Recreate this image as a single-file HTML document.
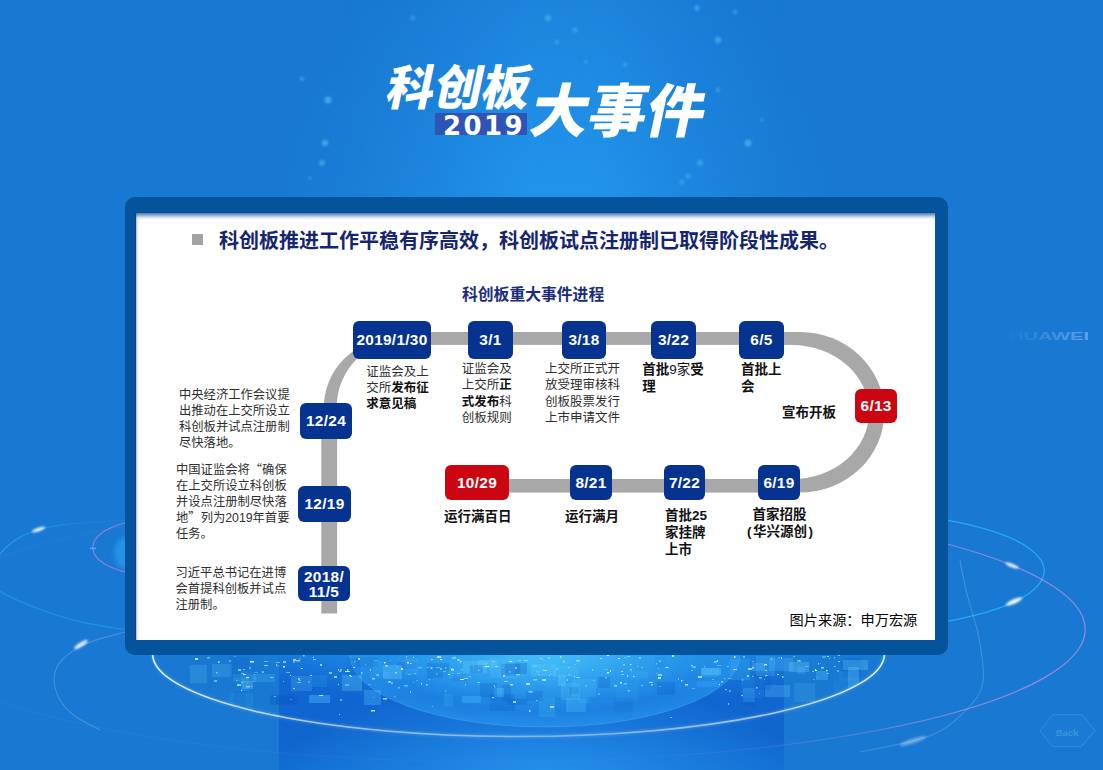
<!DOCTYPE html>
<html lang="zh-CN">
<head>
<meta charset="utf-8">
<title>科创板2019大事件</title>
<style>
*{margin:0;padding:0;box-sizing:border-box}
html,body{width:1103px;height:770px;overflow:hidden}
body{position:relative;background:#1878d2;font-family:"Liberation Sans","Noto Sans CJK SC",sans-serif;color:#222}
.abs{position:absolute}
#bg{position:absolute;left:0;top:0;width:1103px;height:770px;overflow:hidden;
 background:
  radial-gradient(ellipse 290px 300px at 556px 230px, rgba(36,156,240,.5), rgba(36,156,240,0) 100%),
  #1878d2;}
#beam{position:absolute;left:340px;top:0;width:450px;height:420px;
 background:linear-gradient(90deg,rgba(34,150,238,0) 0%,rgba(34,150,238,.22) 22%,rgba(38,158,242,.5) 42%,rgba(38,158,242,.52) 58%,rgba(34,150,238,.22) 78%,rgba(34,150,238,0) 100%);
 -webkit-mask-image:linear-gradient(180deg,rgba(0,0,0,.45) 0%,#000 45%);mask-image:linear-gradient(180deg,rgba(0,0,0,.45) 0%,#000 45%)}
#bgsvg{position:absolute;left:0;top:0}
/* title */
.t1{position:absolute;left:381px;top:59px;font-size:47.75px;line-height:60px;font-weight:900;color:#fff;white-space:nowrap;transform:skewX(-12deg);transform-origin:0 100%;letter-spacing:0px}
.t2{position:absolute;left:524px;top:75px;font-size:58px;line-height:74px;font-weight:900;color:#fff;white-space:nowrap;transform:skewX(-12deg);transform-origin:0 100%;letter-spacing:0px}
.yr{position:absolute;left:435px;top:113px;width:91.5px;height:22px;background:#2f54b5;color:#fff;font-family:"DejaVu Sans","Liberation Sans",sans-serif;font-weight:bold;font-size:26px;line-height:27px;text-align:right;padding-right:1.5px;letter-spacing:2.4px;overflow:hidden}
/* card */
#frame{position:absolute;left:125px;top:197px;width:823px;height:458px;background:#05539a;border-radius:10px}
#card{position:absolute;left:135px;top:213px;width:800px;height:427px;background:#fff;overflow:hidden;
 box-shadow:inset 2px 4.5px 4px -2px rgba(5,70,150,.8), inset 2px 0 1px -1px rgba(0,10,40,.9)}
.h{position:absolute;left:219px;top:226.5px;font-size:20px;line-height:28px;font-weight:bold;color:#15266f;white-space:nowrap}
.bul{position:absolute;left:191.7px;top:233.9px;width:11.3px;height:10.8px;background:#a3a3a3}
.sub{position:absolute;left:462px;top:283.5px;font-size:15.8px;line-height:22px;font-weight:bold;color:#1a2d7c;white-space:nowrap}
.node{position:absolute;background:#06338f;border-radius:6px;color:#fff;font-weight:bold;font-size:15.4px;letter-spacing:.3px;text-align:center;white-space:nowrap}
.node.red{background:#cb0612}
.tx{position:absolute;font-size:12.3px;line-height:16px;color:#2e2e2e;white-space:nowrap}
.tx.c{font-size:12.5px}
.q{font-family:"Noto Sans CJK SC",sans-serif;line-height:0}
.tx b{color:#111}
.lb{position:absolute;font-size:13.5px;line-height:17.2px;font-weight:bold;color:#111;white-space:nowrap}
.src{position:absolute;left:789.6px;top:609.7px;font-size:14.2px;line-height:20px;color:#000;white-space:nowrap}
</style>
</head>
<body>
<div id="bg"><div id="beam"></div></div>
<svg id="bgsvg" width="1103" height="770" viewBox="0 0 1103 770">
<defs>
<linearGradient id="bandg" x1="0" y1="640" x2="0" y2="770" gradientUnits="userSpaceOnUse">
<stop offset="0" stop-color="#187ce0"/><stop offset=".3" stop-color="#1167d3"/><stop offset=".72" stop-color="#1064cd"/><stop offset="1" stop-color="#116cd2"/></linearGradient>
<radialGradient id="cityg" cx="545" cy="650" r="1" gradientUnits="userSpaceOnUse" gradientTransform="translate(545 650) scale(320 58) translate(-545 -650)">
<stop offset="0" stop-color="#48c4fa" stop-opacity=".8"/><stop offset=".5" stop-color="#2fa8f2" stop-opacity=".4"/><stop offset="1" stop-color="#2196ea" stop-opacity="0"/></radialGradient>
<radialGradient id="domeg" cx="545" cy="655" r="1" gradientUnits="userSpaceOnUse" gradientTransform="translate(545 655) scale(195 72) translate(-545 -655)">
<stop offset="0" stop-color="#45bcf8" stop-opacity=".6"/><stop offset=".8" stop-color="#2394ec" stop-opacity=".45"/><stop offset="1" stop-color="#2a9af0" stop-opacity=".6"/></radialGradient>
<radialGradient id="cityg2" cx="545" cy="660" r="1" gradientUnits="userSpaceOnUse" gradientTransform="translate(545 660) scale(200 52) translate(-545 -660)">
<stop offset="0" stop-color="#4cc8fb" stop-opacity=".7"/><stop offset=".6" stop-color="#2fa8f2" stop-opacity=".35"/><stop offset="1" stop-color="#2196ea" stop-opacity="0"/></radialGradient>
<radialGradient id="botg" cx="545" cy="775" r="1" gradientUnits="userSpaceOnUse" gradientTransform="translate(545 775) scale(270 95) translate(-545 -775)">
<stop offset="0" stop-color="#2796f0" stop-opacity=".85"/><stop offset="1" stop-color="#2a9af0" stop-opacity="0"/></radialGradient>
<linearGradient id="pinkg" x1="0" y1="0" x2="1103" y2="0" gradientUnits="userSpaceOnUse"><stop offset="0" stop-color="#d890e0" stop-opacity=".07"/><stop offset=".6" stop-color="#d890e0" stop-opacity=".04"/><stop offset=".75" stop-color="#d890e0" stop-opacity=".22"/><stop offset=".9" stop-color="#e09ae6" stop-opacity=".6"/><stop offset="1" stop-color="#e09ae6" stop-opacity=".6"/></linearGradient>
<linearGradient id="cyl" x1="0" y1="0" x2="130" y2="0" gradientUnits="userSpaceOnUse"><stop offset="0" stop-color="#28b8ff" stop-opacity=".6"/><stop offset=".3" stop-color="#28b8ff" stop-opacity=".5"/><stop offset=".6" stop-color="#28b8ff" stop-opacity=".15"/><stop offset="1" stop-color="#28b8ff" stop-opacity=".12"/></linearGradient>
<linearGradient id="ringg" x1="152" y1="0" x2="885" y2="0" gradientUnits="userSpaceOnUse"><stop offset="0" stop-color="#f2f9ff" stop-opacity=".95"/><stop offset=".3" stop-color="#e6f4ff" stop-opacity=".55"/><stop offset=".55" stop-color="#e6f4ff" stop-opacity=".4"/><stop offset=".8" stop-color="#e6f4ff" stop-opacity=".6"/><stop offset="1" stop-color="#f2f9ff" stop-opacity=".95"/></linearGradient>
<clipPath id="ringclip"><ellipse cx="518.5" cy="653.7" rx="366" ry="82.8"/></clipPath>
<filter id="b1" x="-50%" y="-50%" width="200%" height="200%"><feGaussianBlur stdDeviation="1.2"/></filter>
<filter id="b2" x="-50%" y="-50%" width="200%" height="200%"><feGaussianBlur stdDeviation="2.5"/></filter>
<linearGradient id="hw" x1="1005" y1="0" x2="1090" y2="0" gradientUnits="userSpaceOnUse"><stop offset="0" stop-color="#8fc4f0" stop-opacity="0"/><stop offset="1" stop-color="#a9d3f5" stop-opacity=".5"/></linearGradient>
</defs>
<rect x="279" y="640" width="505" height="130" fill="url(#bandg)"/>
<rect x="279" y="700" width="505" height="70" fill="url(#botg)"/>
<g clip-path="url(#ringclip)">
<rect x="150" y="640" width="740" height="110" fill="url(#cityg)"/>
<rect x="279" y="640" width="505" height="110" fill="url(#cityg2)"/>
<ellipse cx="545" cy="655" rx="195" ry="72" fill="url(#domeg)" stroke="#7fd0ff" stroke-opacity=".25" stroke-width="1"/>
<rect x="397" y="662" width="20" height="7" fill="#0f5fc8" opacity="0.22"/>
<rect x="578" y="696" width="12" height="7" fill="#3ab4f6" opacity="0.19"/>
<rect x="233" y="674" width="23" height="8" fill="#7be0ff" opacity="0.15"/>
<rect x="833" y="681" width="15" height="22" fill="#3ab4f6" opacity="0.11"/>
<rect x="373" y="661" width="10" height="11" fill="#3ab4f6" opacity="0.28"/>
<rect x="242" y="681" width="11" height="8" fill="#7be0ff" opacity="0.26"/>
<rect x="212" y="664" width="20" height="13" fill="#7be0ff" opacity="0.17"/>
<rect x="816" y="671" width="12" height="9" fill="#5fd2ff" opacity="0.27"/>
<rect x="572" y="679" width="24" height="18" fill="#5fd2ff" opacity="0.16"/>
<rect x="253" y="674" width="22" height="8" fill="#5fd2ff" opacity="0.21"/>
<rect x="843" y="658" width="18" height="19" fill="#0f5fc8" opacity="0.28"/>
<rect x="657" y="682" width="18" height="13" fill="#0f5fc8" opacity="0.28"/>
<rect x="502" y="685" width="9" height="17" fill="#0d58bd" opacity="0.24"/>
<rect x="369" y="672" width="20" height="6" fill="#3ab4f6" opacity="0.20"/>
<rect x="598" y="677" width="12" height="11" fill="#0d58bd" opacity="0.26"/>
<rect x="444" y="694" width="9" height="13" fill="#3ab4f6" opacity="0.22"/>
<rect x="743" y="694" width="13" height="13" fill="#0d58bd" opacity="0.18"/>
<rect x="840" y="662" width="11" height="10" fill="#0d58bd" opacity="0.15"/>
<rect x="752" y="663" width="13" height="8" fill="#7be0ff" opacity="0.22"/>
<rect x="566" y="698" width="20" height="14" fill="#5fd2ff" opacity="0.24"/>
<rect x="490" y="694" width="25" height="17" fill="#0d58bd" opacity="0.22"/>
<rect x="449" y="660" width="19" height="7" fill="#3ab4f6" opacity="0.11"/>
<rect x="478" y="660" width="19" height="8" fill="#7be0ff" opacity="0.22"/>
<rect x="241" y="671" width="8" height="20" fill="#3ab4f6" opacity="0.24"/>
<rect x="614" y="698" width="19" height="14" fill="#0d58bd" opacity="0.13"/>
<rect x="509" y="659" width="10" height="11" fill="#3ab4f6" opacity="0.16"/>
<rect x="531" y="664" width="25" height="12" fill="#5fd2ff" opacity="0.25"/>
<rect x="701" y="668" width="20" height="7" fill="#7be0ff" opacity="0.29"/>
<rect x="427" y="663" width="22" height="15" fill="#0f5fc8" opacity="0.27"/>
<rect x="616" y="683" width="22" height="18" fill="#3ab4f6" opacity="0.14"/>
<rect x="743" y="688" width="12" height="14" fill="#5fd2ff" opacity="0.18"/>
<rect x="501" y="664" width="19" height="12" fill="#0f5fc8" opacity="0.28"/>
<rect x="839" y="671" width="12" height="10" fill="#3ab4f6" opacity="0.14"/>
<rect x="508" y="699" width="19" height="6" fill="#0f5fc8" opacity="0.30"/>
<rect x="730" y="659" width="20" height="21" fill="#3ab4f6" opacity="0.27"/>
<rect x="505" y="663" width="22" height="11" fill="#0d58bd" opacity="0.28"/>
<rect x="494" y="688" width="10" height="9" fill="#5fd2ff" opacity="0.32"/>
<rect x="276" y="696" width="23" height="8" fill="#0d58bd" opacity="0.28"/>
<rect x="630" y="671" width="18" height="8" fill="#5fd2ff" opacity="0.10"/>
<rect x="539" y="697" width="16" height="20" fill="#3ab4f6" opacity="0.28"/>
<rect x="190" y="665" width="17" height="18" fill="#7be0ff" opacity="0.17"/>
<rect x="463" y="661" width="24" height="12" fill="#7be0ff" opacity="0.20"/>
<rect x="741" y="678" width="23" height="20" fill="#3ab4f6" opacity="0.13"/>
<rect x="536" y="656" width="16" height="9" fill="#3ab4f6" opacity="0.10"/>
<rect x="291" y="676" width="21" height="15" fill="#7be0ff" opacity="0.17"/>
<rect x="542" y="677" width="22" height="20" fill="#3ab4f6" opacity="0.11"/>
<rect x="364" y="690" width="17" height="15" fill="#5fd2ff" opacity="0.27"/>
<rect x="480" y="683" width="17" height="14" fill="#0d58bd" opacity="0.25"/>
<rect x="526" y="691" width="17" height="10" fill="#0f5fc8" opacity="0.22"/>
<rect x="312" y="675" width="15" height="12" fill="#3ab4f6" opacity="0.17"/>
<rect x="470" y="665" width="13" height="8" fill="#0f5fc8" opacity="0.27"/>
<rect x="270" y="695" width="25" height="10" fill="#0d58bd" opacity="0.31"/>
<rect x="789" y="662" width="20" height="10" fill="#7be0ff" opacity="0.26"/>
<rect x="453" y="674" width="14" height="7" fill="#0f5fc8" opacity="0.18"/>
<rect x="558" y="675" width="8" height="11" fill="#7be0ff" opacity="0.24"/>
<rect x="843" y="660" width="25" height="10" fill="#5fd2ff" opacity="0.29"/>
<rect x="356" y="657" width="22" height="10" fill="#0d58bd" opacity="0.13"/>
<rect x="765" y="685" width="25" height="12" fill="#7be0ff" opacity="0.22"/>
<rect x="569" y="687" width="10" height="7" fill="#0d58bd" opacity="0.25"/>
<rect x="797" y="667" width="8" height="7" fill="#7be0ff" opacity="0.16"/>
<rect x="769" y="658" width="24" height="13" fill="#7be0ff" opacity="0.17"/>
<rect x="462" y="696" width="19" height="7" fill="#5fd2ff" opacity="0.26"/>
<rect x="848" y="667" width="11" height="21" fill="#7be0ff" opacity="0.24"/>
<rect x="702" y="668" width="17" height="9" fill="#5fd2ff" opacity="0.18"/>
<rect x="342" y="675" width="20" height="16" fill="#7be0ff" opacity="0.24"/>
<rect x="754" y="673" width="17" height="17" fill="#0f5fc8" opacity="0.32"/>
<rect x="309" y="695" width="21" height="8" fill="#5fd2ff" opacity="0.32"/>
<rect x="756" y="656" width="19" height="20" fill="#5fd2ff" opacity="0.19"/>
<rect x="229" y="693" width="24" height="17" fill="#3ab4f6" opacity="0.16"/>
<rect x="655" y="657" width="11" height="10" fill="#0f5fc8" opacity="0.10"/>
<rect x="553" y="666" width="25" height="11" fill="#5fd2ff" opacity="0.18"/>
<rect x="405" y="659" width="13" height="16" fill="#5fd2ff" opacity="0.15"/>
<rect x="234" y="692" width="11" height="15" fill="#0f5fc8" opacity="0.19"/>
<rect x="383" y="665" width="19" height="14" fill="#7be0ff" opacity="0.27"/>
<rect x="443" y="670" width="26" height="8" fill="#3ab4f6" opacity="0.26"/>
<rect x="794" y="683" width="21" height="19" fill="#7be0ff" opacity="0.13"/>
<rect x="697" y="681" width="23" height="6" fill="#3ab4f6" opacity="0.25"/>
<rect x="230" y="657" width="19" height="21" fill="#0d58bd" opacity="0.18"/>
<rect x="561" y="683" width="19" height="17" fill="#5fd2ff" opacity="0.21"/>
<rect x="490" y="658" width="25" height="20" fill="#7be0ff" opacity="0.12"/>
<rect x="347" y="658" width="13" height="18" fill="#0d58bd" opacity="0.15"/>
<rect x="516" y="674" width="4" height="1.5" fill="#9be6ff" opacity="0.81"/>
<rect x="216" y="672" width="1.5" height="1.5" fill="#ffffff" opacity="0.50"/>
<rect x="607" y="672" width="2" height="1.5" fill="#d8f6ff" opacity="0.93"/>
<rect x="658" y="674" width="4" height="2" fill="#ffffff" opacity="0.52"/>
<rect x="495" y="666" width="3" height="1" fill="#d8f6ff" opacity="0.54"/>
<rect x="834" y="657" width="1" height="1.5" fill="#7fdcff" opacity="0.63"/>
<rect x="349" y="675" width="2" height="1" fill="#ffffff" opacity="0.71"/>
<rect x="799" y="660" width="2" height="2" fill="#d8f6ff" opacity="0.36"/>
<rect x="651" y="684" width="2" height="1.5" fill="#d8f6ff" opacity="0.58"/>
<rect x="765" y="675" width="1" height="1.5" fill="#7fdcff" opacity="0.80"/>
<rect x="246" y="686" width="4" height="1.5" fill="#d8f6ff" opacity="0.50"/>
<rect x="443" y="671" width="3" height="1" fill="#7fdcff" opacity="0.57"/>
<rect x="704" y="666" width="1" height="1.5" fill="#9be6ff" opacity="0.73"/>
<rect x="340" y="669" width="2" height="2" fill="#9be6ff" opacity="0.66"/>
<rect x="717" y="660" width="1" height="2" fill="#9be6ff" opacity="0.90"/>
<rect x="678" y="678" width="1" height="2" fill="#9be6ff" opacity="0.62"/>
<rect x="624" y="657" width="3" height="1" fill="#7fdcff" opacity="0.45"/>
<rect x="407" y="662" width="2" height="1.5" fill="#ffffff" opacity="0.79"/>
<rect x="452" y="657" width="4" height="2" fill="#9be6ff" opacity="0.42"/>
<rect x="214" y="680" width="3" height="2" fill="#7fdcff" opacity="0.68"/>
<rect x="813" y="679" width="1.5" height="1" fill="#9be6ff" opacity="0.50"/>
<rect x="406" y="656" width="1" height="1.5" fill="#ffffff" opacity="0.49"/>
<rect x="743" y="656" width="2" height="2" fill="#9be6ff" opacity="0.60"/>
<rect x="431" y="659" width="2" height="1" fill="#ffffff" opacity="0.65"/>
<rect x="251" y="686" width="1.5" height="1" fill="#9be6ff" opacity="0.51"/>
<rect x="437" y="656" width="4" height="2" fill="#ffffff" opacity="0.61"/>
<rect x="771" y="658" width="1" height="2" fill="#7fdcff" opacity="0.78"/>
<rect x="513" y="701" width="3" height="2" fill="#9be6ff" opacity="0.93"/>
<rect x="724" y="678" width="1.5" height="1" fill="#d8f6ff" opacity="0.44"/>
<rect x="838" y="661" width="2" height="1" fill="#d8f6ff" opacity="0.68"/>
<rect x="250" y="661" width="4" height="1.5" fill="#ffffff" opacity="0.93"/>
<rect x="540" y="658" width="2" height="1" fill="#ffffff" opacity="0.41"/>
<rect x="538" y="674" width="1.5" height="1" fill="#ffffff" opacity="0.36"/>
<rect x="361" y="672" width="1.5" height="2" fill="#9be6ff" opacity="0.67"/>
<rect x="457" y="659" width="1.5" height="2" fill="#7fdcff" opacity="0.88"/>
<rect x="218" y="661" width="1.5" height="2" fill="#9be6ff" opacity="0.91"/>
<rect x="515" y="667" width="2" height="2" fill="#ffffff" opacity="0.47"/>
<rect x="692" y="688" width="3" height="1" fill="#9be6ff" opacity="0.47"/>
<rect x="384" y="662" width="1.5" height="1.5" fill="#ffffff" opacity="0.81"/>
<rect x="238" y="669" width="3" height="2" fill="#9be6ff" opacity="0.72"/>
<rect x="509" y="661" width="3" height="1" fill="#d8f6ff" opacity="0.90"/>
<rect x="313" y="659" width="3" height="1" fill="#d8f6ff" opacity="0.60"/>
<rect x="293" y="688" width="2" height="1" fill="#9be6ff" opacity="0.95"/>
<rect x="397" y="666" width="1.5" height="2" fill="#7fdcff" opacity="0.37"/>
<rect x="764" y="679" width="1" height="1" fill="#d8f6ff" opacity="0.40"/>
<rect x="413" y="657" width="1" height="1" fill="#ffffff" opacity="0.58"/>
<rect x="752" y="661" width="2" height="1" fill="#7fdcff" opacity="0.57"/>
<rect x="299" y="658" width="2" height="2" fill="#7fdcff" opacity="0.37"/>
<rect x="339" y="671" width="2" height="1" fill="#d8f6ff" opacity="0.63"/>
<rect x="345" y="671" width="4" height="1" fill="#ffffff" opacity="0.89"/>
<rect x="421" y="683" width="1" height="1.5" fill="#ffffff" opacity="0.80"/>
<rect x="374" y="660" width="4" height="1" fill="#9be6ff" opacity="0.36"/>
<rect x="237" y="684" width="4" height="2" fill="#7fdcff" opacity="0.92"/>
<rect x="729" y="690" width="1.5" height="2" fill="#ffffff" opacity="0.46"/>
<rect x="752" y="676" width="1.5" height="1" fill="#ffffff" opacity="0.55"/>
<rect x="492" y="661" width="3" height="1" fill="#9be6ff" opacity="0.59"/>
<rect x="338" y="684" width="1" height="1" fill="#ffffff" opacity="0.64"/>
<rect x="276" y="664" width="1" height="1.5" fill="#9be6ff" opacity="0.72"/>
<rect x="229" y="660" width="2" height="2" fill="#9be6ff" opacity="0.45"/>
<rect x="460" y="679" width="4" height="1" fill="#ffffff" opacity="0.82"/>
<rect x="372" y="678" width="3" height="1.5" fill="#ffffff" opacity="0.57"/>
<rect x="303" y="655" width="1.5" height="1.5" fill="#9be6ff" opacity="0.88"/>
<rect x="395" y="672" width="2" height="1.5" fill="#9be6ff" opacity="0.95"/>
<rect x="628" y="675" width="1" height="1" fill="#9be6ff" opacity="0.35"/>
<rect x="765" y="670" width="2" height="1" fill="#9be6ff" opacity="0.88"/>
<rect x="246" y="677" width="3" height="1" fill="#ffffff" opacity="0.91"/>
<rect x="529" y="710" width="1.5" height="2" fill="#d8f6ff" opacity="0.71"/>
<rect x="236" y="680" width="1.5" height="1" fill="#9be6ff" opacity="0.57"/>
<rect x="818" y="663" width="1" height="1.5" fill="#ffffff" opacity="0.60"/>
<rect x="293" y="661" width="2" height="2" fill="#d8f6ff" opacity="0.39"/>
<rect x="733" y="669" width="4" height="1" fill="#d8f6ff" opacity="0.73"/>
<rect x="630" y="669" width="2" height="1.5" fill="#d8f6ff" opacity="0.60"/>
<rect x="385" y="665" width="3" height="1.5" fill="#d8f6ff" opacity="0.60"/>
<rect x="782" y="676" width="1.5" height="2" fill="#9be6ff" opacity="0.79"/>
<rect x="838" y="655" width="2" height="1" fill="#d8f6ff" opacity="0.60"/>
<rect x="452" y="673" width="1.5" height="1" fill="#9be6ff" opacity="0.36"/>
<rect x="621" y="671" width="2" height="1" fill="#ffffff" opacity="0.69"/>
<rect x="691" y="665" width="1.5" height="1" fill="#d8f6ff" opacity="0.91"/>
<rect x="436" y="673" width="1.5" height="1.5" fill="#d8f6ff" opacity="0.43"/>
<rect x="827" y="656" width="2" height="1" fill="#9be6ff" opacity="0.89"/>
<rect x="621" y="674" width="3" height="1" fill="#9be6ff" opacity="0.85"/>
<rect x="567" y="679" width="1" height="2" fill="#9be6ff" opacity="0.91"/>
<rect x="436" y="667" width="4" height="1" fill="#d8f6ff" opacity="0.37"/>
<rect x="641" y="667" width="2" height="1" fill="#7fdcff" opacity="0.58"/>
<rect x="556" y="668" width="2" height="1.5" fill="#7fdcff" opacity="0.70"/>
<rect x="440" y="668" width="2" height="2" fill="#9be6ff" opacity="0.65"/>
<rect x="329" y="672" width="3" height="2" fill="#7fdcff" opacity="0.85"/>
<rect x="448" y="674" width="2" height="1" fill="#d8f6ff" opacity="0.83"/>
<rect x="254" y="672" width="4" height="1" fill="#7fdcff" opacity="0.38"/>
<rect x="630" y="664" width="1.5" height="1" fill="#d8f6ff" opacity="0.86"/>
<rect x="299" y="680" width="1.5" height="1" fill="#ffffff" opacity="0.39"/>
<rect x="600" y="658" width="2" height="1" fill="#ffffff" opacity="0.54"/>
<rect x="812" y="671" width="2" height="1" fill="#9be6ff" opacity="0.71"/>
<rect x="390" y="660" width="1" height="1" fill="#9be6ff" opacity="0.46"/>
<rect x="618" y="658" width="2" height="1" fill="#ffffff" opacity="0.83"/>
<rect x="243" y="674" width="3" height="1" fill="#ffffff" opacity="0.73"/>
<rect x="656" y="663" width="1" height="1.5" fill="#7fdcff" opacity="0.95"/>
<rect x="691" y="670" width="2" height="1" fill="#d8f6ff" opacity="0.57"/>
<rect x="478" y="670" width="1.5" height="1" fill="#ffffff" opacity="0.53"/>
<rect x="383" y="698" width="4" height="1.5" fill="#d8f6ff" opacity="0.79"/>
<rect x="320" y="664" width="2" height="2" fill="#ffffff" opacity="0.60"/>
<rect x="805" y="666" width="4" height="1" fill="#d8f6ff" opacity="0.36"/>
<rect x="568" y="667" width="2" height="1" fill="#9be6ff" opacity="0.66"/>
<rect x="458" y="659" width="2" height="2" fill="#d8f6ff" opacity="0.45"/>
<rect x="834" y="666" width="1.5" height="1" fill="#d8f6ff" opacity="0.62"/>
<rect x="620" y="682" width="2" height="1.5" fill="#d8f6ff" opacity="0.93"/>
<rect x="624" y="683" width="3" height="1.5" fill="#7fdcff" opacity="0.71"/>
<rect x="593" y="680" width="1.5" height="1" fill="#d8f6ff" opacity="0.38"/>
<rect x="452" y="658" width="1.5" height="1" fill="#d8f6ff" opacity="0.39"/>
<rect x="262" y="671" width="1.5" height="2" fill="#9be6ff" opacity="0.84"/>
<rect x="526" y="683" width="4" height="2" fill="#d8f6ff" opacity="0.78"/>
<rect x="430" y="667" width="2" height="2" fill="#7fdcff" opacity="0.40"/>
<rect x="286" y="672" width="4" height="1" fill="#ffffff" opacity="0.42"/>
<rect x="672" y="655" width="2" height="2" fill="#ffffff" opacity="0.76"/>
<rect x="373" y="697" width="1" height="1" fill="#9be6ff" opacity="0.45"/>
<rect x="766" y="675" width="1.5" height="1" fill="#ffffff" opacity="0.80"/>
<rect x="298" y="678" width="2" height="2" fill="#d8f6ff" opacity="0.63"/>
<rect x="777" y="674" width="2" height="1" fill="#ffffff" opacity="0.69"/>
<rect x="728" y="678" width="3" height="1" fill="#d8f6ff" opacity="0.44"/>
<rect x="241" y="673" width="3" height="1" fill="#9be6ff" opacity="0.56"/>
<rect x="665" y="667" width="4" height="1" fill="#d8f6ff" opacity="0.77"/>
<rect x="207" y="657" width="3" height="1.5" fill="#d8f6ff" opacity="0.47"/>
<rect x="793" y="656" width="2" height="1" fill="#9be6ff" opacity="0.50"/>
<rect x="241" y="690" width="1" height="1" fill="#ffffff" opacity="0.85"/>
<rect x="504" y="681" width="4" height="1" fill="#ffffff" opacity="0.53"/>
<rect x="465" y="684" width="1" height="1.5" fill="#ffffff" opacity="0.50"/>
<rect x="195" y="658" width="3" height="2" fill="#d8f6ff" opacity="0.86"/>
<rect x="728" y="703" width="1" height="2" fill="#d8f6ff" opacity="0.66"/>
<rect x="410" y="663" width="1.5" height="1" fill="#ffffff" opacity="0.69"/>
<rect x="283" y="681" width="1" height="1" fill="#d8f6ff" opacity="0.52"/>
<rect x="734" y="656" width="1.5" height="2" fill="#ffffff" opacity="0.71"/>
<rect x="576" y="677" width="4" height="1" fill="#d8f6ff" opacity="0.65"/>
<rect x="564" y="659" width="1" height="1.5" fill="#7fdcff" opacity="0.56"/>
<rect x="464" y="678" width="4" height="1" fill="#ffffff" opacity="0.57"/>
<rect x="350" y="676" width="2" height="1" fill="#9be6ff" opacity="0.92"/>
<rect x="543" y="670" width="4" height="1" fill="#ffffff" opacity="0.56"/>
<rect x="536" y="671" width="3" height="1.5" fill="#7fdcff" opacity="0.45"/>
<rect x="656" y="673" width="2" height="1" fill="#7fdcff" opacity="0.43"/>
<rect x="623" y="664" width="2" height="1.5" fill="#9be6ff" opacity="0.80"/>
<rect x="681" y="680" width="1.5" height="1.5" fill="#ffffff" opacity="0.71"/>
<rect x="276" y="662" width="4" height="1" fill="#d8f6ff" opacity="0.45"/>
<rect x="301" y="668" width="1.5" height="1" fill="#ffffff" opacity="0.83"/>
<rect x="473" y="665" width="1" height="1.5" fill="#7fdcff" opacity="0.47"/>
<rect x="494" y="685" width="1" height="2" fill="#7fdcff" opacity="0.86"/>
<rect x="659" y="686" width="2" height="1" fill="#7fdcff" opacity="0.44"/>
<rect x="334" y="676" width="3" height="2" fill="#9be6ff" opacity="0.86"/>
<rect x="649" y="682" width="4" height="1" fill="#ffffff" opacity="0.62"/>
<rect x="347" y="669" width="1.5" height="2" fill="#9be6ff" opacity="0.78"/>
<rect x="340" y="699" width="2" height="2" fill="#7fdcff" opacity="0.62"/>
<rect x="533" y="679" width="4" height="1.5" fill="#7fdcff" opacity="0.82"/>
<rect x="759" y="693" width="1" height="1" fill="#9be6ff" opacity="0.50"/>
<rect x="276" y="665" width="3" height="1.5" fill="#7fdcff" opacity="0.41"/>
<rect x="550" y="706" width="4" height="2" fill="#ffffff" opacity="0.66"/>
<rect x="536" y="700" width="1.5" height="1" fill="#d8f6ff" opacity="0.59"/>
<rect x="685" y="684" width="3" height="1.5" fill="#ffffff" opacity="0.73"/>
<rect x="358" y="658" width="2" height="2" fill="#ffffff" opacity="0.73"/>
<rect x="578" y="657" width="1" height="1" fill="#7fdcff" opacity="0.53"/>
<rect x="837" y="670" width="2" height="2" fill="#9be6ff" opacity="0.48"/>
<rect x="829" y="658" width="1" height="1" fill="#9be6ff" opacity="0.63"/>
<rect x="747" y="675" width="2" height="2" fill="#9be6ff" opacity="0.95"/>
<rect x="721" y="681" width="2" height="1.5" fill="#9be6ff" opacity="0.82"/>
<rect x="353" y="667" width="2" height="1" fill="#ffffff" opacity="0.64"/>
<rect x="418" y="667" width="4" height="1.5" fill="#7fdcff" opacity="0.54"/>
<rect x="469" y="676" width="2" height="1" fill="#7fdcff" opacity="0.91"/>
<rect x="756" y="687" width="1.5" height="1.5" fill="#d8f6ff" opacity="0.73"/>
<rect x="633" y="676" width="1.5" height="1" fill="#ffffff" opacity="0.74"/>
<rect x="598" y="693" width="1.5" height="2" fill="#9be6ff" opacity="0.56"/>
<rect x="310" y="675" width="2" height="1" fill="#d8f6ff" opacity="0.72"/>
<rect x="641" y="685" width="2" height="1" fill="#9be6ff" opacity="0.65"/>
<rect x="542" y="679" width="4" height="2" fill="#d8f6ff" opacity="0.75"/>
<rect x="560" y="656" width="1.5" height="2" fill="#d8f6ff" opacity="0.65"/>
<rect x="509" y="671" width="1.5" height="2" fill="#9be6ff" opacity="0.50"/>
<rect x="548" y="657" width="2" height="2" fill="#7fdcff" opacity="0.77"/>
<rect x="639" y="657" width="2" height="1.5" fill="#d8f6ff" opacity="0.61"/>
<rect x="290" y="675" width="1" height="1" fill="#ffffff" opacity="0.76"/>
<rect x="742" y="679" width="1" height="2" fill="#9be6ff" opacity="0.64"/>
<rect x="404" y="685" width="4" height="1.5" fill="#9be6ff" opacity="0.55"/>
<rect x="365" y="664" width="1" height="1.5" fill="#7fdcff" opacity="0.53"/>
<rect x="451" y="669" width="3" height="1.5" fill="#ffffff" opacity="0.87"/>
<rect x="398" y="687" width="2" height="1.5" fill="#d8f6ff" opacity="0.43"/>
<rect x="725" y="689" width="2" height="1" fill="#d8f6ff" opacity="0.59"/>
<rect x="297" y="682" width="4" height="1" fill="#7fdcff" opacity="0.82"/>
<rect x="604" y="669" width="4" height="1" fill="#7fdcff" opacity="0.48"/>
<rect x="610" y="670" width="1" height="2" fill="#d8f6ff" opacity="0.81"/>
<rect x="426" y="684" width="1.5" height="1.5" fill="#ffffff" opacity="0.69"/>
<rect x="781" y="657" width="1" height="2" fill="#d8f6ff" opacity="0.69"/>
<rect x="518" y="660" width="3" height="1" fill="#7fdcff" opacity="0.84"/>
<rect x="574" y="676" width="1" height="2" fill="#9be6ff" opacity="0.71"/>
<rect x="502" y="667" width="2" height="1" fill="#7fdcff" opacity="0.40"/>
<rect x="313" y="657" width="1" height="1" fill="#d8f6ff" opacity="0.76"/>
<rect x="778" y="657" width="2" height="1" fill="#9be6ff" opacity="0.52"/>
<rect x="485" y="666" width="4" height="1" fill="#ffffff" opacity="0.90"/>
<rect x="717" y="665" width="4" height="1" fill="#7fdcff" opacity="0.53"/>
<rect x="492" y="697" width="2" height="1" fill="#d8f6ff" opacity="0.78"/>
<rect x="605" y="677" width="2" height="1.5" fill="#9be6ff" opacity="0.54"/>
<rect x="388" y="681" width="3" height="2" fill="#9be6ff" opacity="0.63"/>
<rect x="264" y="661" width="4" height="1" fill="#7fdcff" opacity="0.73"/>
<rect x="503" y="675" width="2" height="1.5" fill="#ffffff" opacity="0.82"/>
<rect x="371" y="710" width="4" height="1.5" fill="#d8f6ff" opacity="0.87"/>
<rect x="759" y="677" width="3" height="1.5" fill="#9be6ff" opacity="0.70"/>
<rect x="431" y="667" width="1.5" height="2" fill="#d8f6ff" opacity="0.52"/>
<rect x="391" y="682" width="2" height="2" fill="#d8f6ff" opacity="0.44"/>
<rect x="368" y="684" width="3" height="1" fill="#7fdcff" opacity="0.51"/>
<rect x="410" y="691" width="1" height="2" fill="#9be6ff" opacity="0.83"/>
<rect x="727" y="666" width="2" height="1" fill="#7fdcff" opacity="0.76"/>
<rect x="670" y="717" width="2" height="1" fill="#7fdcff" opacity="0.82"/>
<rect x="549" y="675" width="1" height="1" fill="#ffffff" opacity="0.59"/>
<rect x="797" y="660" width="3" height="1.5" fill="#9be6ff" opacity="0.64"/>
<rect x="296" y="660" width="4" height="1.5" fill="#ffffff" opacity="0.57"/>
<rect x="450" y="668" width="3" height="1" fill="#7fdcff" opacity="0.50"/>
<rect x="429" y="679" width="1" height="1" fill="#d8f6ff" opacity="0.54"/>
<rect x="408" y="674" width="3" height="1" fill="#9be6ff" opacity="0.41"/>
<rect x="568" y="674" width="2" height="1.5" fill="#7fdcff" opacity="0.61"/>
<rect x="712" y="679" width="2" height="1" fill="#9be6ff" opacity="0.55"/>
<rect x="432" y="706" width="1" height="1" fill="#ffffff" opacity="0.37"/>
<rect x="815" y="669" width="1" height="2" fill="#d8f6ff" opacity="0.90"/>
<rect x="345" y="684" width="4" height="2" fill="#9be6ff" opacity="0.46"/>
<rect x="427" y="667" width="1.5" height="1" fill="#ffffff" opacity="0.45"/>
<rect x="822" y="656" width="4" height="2" fill="#9be6ff" opacity="0.38"/>
<rect x="389" y="681" width="1" height="1" fill="#ffffff" opacity="0.76"/>
<rect x="585" y="685" width="2" height="1.5" fill="#7fdcff" opacity="0.57"/>
<rect x="249" y="667" width="2" height="2" fill="#9be6ff" opacity="0.45"/>
<rect x="741" y="695" width="2" height="1" fill="#9be6ff" opacity="0.83"/>
<rect x="319" y="695" width="4" height="1" fill="#d8f6ff" opacity="0.82"/>
<rect x="827" y="673" width="2" height="1" fill="#7fdcff" opacity="0.73"/>
<rect x="243" y="669" width="2" height="1" fill="#d8f6ff" opacity="0.55"/>
<rect x="290" y="699" width="2" height="1" fill="#7fdcff" opacity="0.51"/>
<rect x="338" y="669" width="1" height="1.5" fill="#ffffff" opacity="0.69"/>
<rect x="401" y="668" width="2" height="2" fill="#d8f6ff" opacity="0.89"/>
<rect x="270" y="677" width="3" height="1" fill="#9be6ff" opacity="0.73"/>
<rect x="563" y="661" width="1.5" height="1.5" fill="#ffffff" opacity="0.61"/>
<rect x="826" y="670" width="1.5" height="1" fill="#ffffff" opacity="0.85"/>
<rect x="264" y="665" width="4" height="1" fill="#ffffff" opacity="0.62"/>
<rect x="528" y="691" width="3" height="1.5" fill="#7fdcff" opacity="0.46"/>
<rect x="454" y="657" width="1.5" height="1" fill="#9be6ff" opacity="0.78"/>
<rect x="592" y="669" width="1" height="2" fill="#9be6ff" opacity="0.81"/>
<rect x="308" y="681" width="1.5" height="1.5" fill="#d8f6ff" opacity="0.47"/>
<rect x="658" y="677" width="3" height="2" fill="#d8f6ff" opacity="0.85"/>
<rect x="533" y="665" width="4" height="2" fill="#7fdcff" opacity="0.40"/>
<rect x="815" y="670" width="2" height="1" fill="#ffffff" opacity="0.87"/>
<rect x="339" y="714" width="1" height="1" fill="#d8f6ff" opacity="0.77"/>
<rect x="416" y="680" width="2" height="1" fill="#9be6ff" opacity="0.42"/>
<rect x="748" y="668" width="4" height="2" fill="#d8f6ff" opacity="0.70"/>
<rect x="370" y="669" width="1" height="2" fill="#d8f6ff" opacity="0.62"/>
<rect x="542" y="659" width="1" height="1" fill="#9be6ff" opacity="0.72"/>
<rect x="234" y="656" width="2" height="1" fill="#9be6ff" opacity="0.36"/>
<rect x="348" y="671" width="2" height="1" fill="#d8f6ff" opacity="0.77"/>
<rect x="413" y="682" width="1" height="1" fill="#d8f6ff" opacity="0.38"/>
<rect x="495" y="687" width="1" height="1" fill="#9be6ff" opacity="0.42"/>
<rect x="550" y="674" width="1.5" height="1" fill="#7fdcff" opacity="0.44"/>
<rect x="698" y="676" width="4" height="2" fill="#d8f6ff" opacity="0.77"/>
<rect x="445" y="690" width="1" height="1.5" fill="#9be6ff" opacity="0.55"/>
<rect x="764" y="664" width="3" height="1.5" fill="#d8f6ff" opacity="0.84"/>
<rect x="394" y="696" width="1.5" height="1.5" fill="#7fdcff" opacity="0.50"/>
<rect x="637" y="666" width="1.5" height="1" fill="#9be6ff" opacity="0.54"/>
<rect x="523" y="656" width="1" height="1" fill="#7fdcff" opacity="0.43"/>
<rect x="719" y="684" width="1" height="1" fill="#ffffff" opacity="0.87"/>
<rect x="821" y="667" width="3" height="1.5" fill="#d8f6ff" opacity="0.73"/>
<rect x="607" y="655" width="2" height="1" fill="#ffffff" opacity="0.92"/>
<rect x="241" y="682" width="2" height="1" fill="#ffffff" opacity="0.42"/>
<rect x="477" y="682" width="3" height="1" fill="#7fdcff" opacity="0.88"/>
<rect x="576" y="660" width="4" height="1.5" fill="#9be6ff" opacity="0.85"/>
<rect x="628" y="690" width="1.5" height="1.5" fill="#ffffff" opacity="0.63"/>
<rect x="601" y="674" width="1.5" height="1.5" fill="#7fdcff" opacity="0.48"/>
<rect x="445" y="667" width="1.5" height="1.5" fill="#7fdcff" opacity="0.68"/>
<rect x="354" y="661" width="1.5" height="1.5" fill="#d8f6ff" opacity="0.38"/>
<rect x="274" y="696" width="2" height="1" fill="#7fdcff" opacity="0.66"/>
<rect x="415" y="673" width="1" height="1" fill="#9be6ff" opacity="0.94"/>
<rect x="460" y="661" width="1.5" height="1.5" fill="#d8f6ff" opacity="0.84"/>
<rect x="692" y="666" width="4" height="2" fill="#9be6ff" opacity="0.51"/>
<rect x="457" y="673" width="3" height="1" fill="#9be6ff" opacity="0.65"/>
<rect x="461" y="669" width="2" height="1" fill="#7fdcff" opacity="0.58"/>
<rect x="659" y="660" width="2" height="2" fill="#7fdcff" opacity="0.67"/>
<rect x="627" y="675" width="1" height="2" fill="#ffffff" opacity="0.58"/>
<rect x="293" y="659" width="3" height="2" fill="#d8f6ff" opacity="0.70"/>
<rect x="752" y="667" width="2" height="1.5" fill="#9be6ff" opacity="0.93"/>
<rect x="816" y="677" width="1" height="1" fill="#7fdcff" opacity="0.38"/>
<rect x="376" y="674" width="3" height="2" fill="#7fdcff" opacity="0.66"/>
<rect x="440" y="659" width="2" height="1" fill="#ffffff" opacity="0.71"/>
<rect x="486" y="663" width="1.5" height="1" fill="#7fdcff" opacity="0.60"/>
<rect x="627" y="656" width="3" height="1" fill="#7fdcff" opacity="0.88"/>
<rect x="510" y="684" width="3" height="1.5" fill="#d8f6ff" opacity="0.76"/>
<rect x="283" y="666" width="2" height="1.5" fill="#ffffff" opacity="0.94"/>
<rect x="529" y="691" width="4" height="1.5" fill="#7fdcff" opacity="0.84"/>
<rect x="614" y="685" width="3" height="1.5" fill="#9be6ff" opacity="0.84"/>
<rect x="524" y="660" width="4" height="1" fill="#d8f6ff" opacity="0.56"/>
<rect x="658" y="668" width="1" height="1" fill="#d8f6ff" opacity="0.53"/>
<rect x="820" y="663" width="1" height="1" fill="#7fdcff" opacity="0.47"/>
<rect x="714" y="661" width="3" height="1.5" fill="#9be6ff" opacity="0.87"/>
<rect x="574" y="664" width="1.5" height="1" fill="#d8f6ff" opacity="0.37"/>
<rect x="283" y="661" width="3" height="2" fill="#7fdcff" opacity="0.84"/>
</g>
<ellipse cx="518.5" cy="653.7" rx="366" ry="82.8" fill="none" stroke="#ffffff" stroke-opacity=".12" stroke-width="4" filter="url(#b1)"/>
<ellipse cx="518.5" cy="653.7" rx="366" ry="82.8" fill="none" stroke="url(#ringg)" stroke-width="1.5"/>
<ellipse cx="850.3" cy="570.8" rx="194" ry="58.1" fill="none" stroke="#28b8ff" stroke-opacity=".8" stroke-width="1.3"/>
<ellipse cx="494.9" cy="629.3" rx="590.3" ry="132.6" fill="none" stroke="url(#pinkg)" stroke-width="1.2"/>
<path d="M960.0 560.0 C961.0 565.2 963.2 578.5 966.3 591.3 C969.4 604.1 975.9 621.8 978.7 637.0 C981.5 652.2 985.0 670.7 982.9 682.8 C980.8 694.9 973.9 701.5 966.3 709.8 C958.7 718.1 947.6 727.1 937.2 732.6 C926.8 738.1 916.8 739.8 903.9 743.0 C891.0 746.2 867.3 750.5 860.0 752.0" fill="none" stroke="#ffffff" stroke-opacity=".18" stroke-width="1.1"/>
<ellipse cx="1012" cy="565.5" rx="7" ry="1.8" transform="rotate(22 1012 565.5)" fill="#fff" opacity=".9" filter="url(#b1)"/>
<ellipse cx="1014" cy="601.5" rx="9" ry="2.2" transform="rotate(-24 1014 601.5)" fill="#fff" opacity=".95" filter="url(#b1)"/>
<ellipse cx="913" cy="741" rx="14" ry="2.5" transform="rotate(-18 913 741)" fill="#fff" opacity=".35" filter="url(#b1)"/>
<path d="M-12.0 572.0 C-10.0 575.2 -8.9 585.0 0.0 591.3 C8.9 597.6 27.8 604.8 41.6 610.0 C55.5 615.2 69.2 619.1 83.1 622.4 C96.9 625.6 117.8 628.3 124.7 629.5" fill="none" stroke="#28b8ff" stroke-opacity=".45" stroke-width="1.1"/>
<path d="M124.7 520.6 C121.2 520.8 114.3 520.8 103.9 521.5 C93.5 522.2 73.2 523.4 62.3 524.8 C51.3 526.2 45.8 527.4 38.2 529.8 C30.6 532.2 23.0 535.3 16.6 539.3 C10.2 543.3 4.8 548.4 0.0 553.9 C-4.8 559.4 -10.0 569.0 -12.0 572.0" fill="none" stroke="url(#cyl)" stroke-width="1.2"/>
<ellipse cx="152.9" cy="547.5" rx="60" ry="27.7" fill="none" stroke="#e48ad0" stroke-opacity=".6" stroke-width="1.1"/>
<ellipse cx="127" cy="553" rx="13" ry="16" fill="#35b4f8" opacity=".45" filter="url(#b2)"/>
<rect x="90" y="547.6" width="6" height="1.6" fill="#35c0ff" opacity=".8"/>
<path d="M125.0 632.0 C118.7 633.9 97.8 638.5 87.3 643.2 C76.8 647.9 67.5 654.1 62.0 660.0 C56.5 665.9 54.3 671.8 54.0 678.5 C53.7 685.2 56.5 693.8 60.0 700.0 C63.5 706.2 68.1 711.0 74.8 716.0 C81.5 721.0 95.8 727.7 100.0 730.0" fill="none" stroke="#ffffff" stroke-opacity=".2" stroke-width="1.1"/>
<ellipse cx="38.5" cy="529.5" rx="7" ry="1.8" transform="rotate(-20 38.5 529.5)" fill="#fff" opacity=".9" filter="url(#b1)"/>
<ellipse cx="81" cy="644.5" rx="8" ry="2" transform="rotate(-32 81 644.5)" fill="#fff" opacity=".9" filter="url(#b1)"/>
<circle cx="328" cy="100" r="3.5" fill="#6fd4ff" opacity="0.50" filter="url(#b1)"/>
<circle cx="325" cy="143" r="3.2" fill="#6fd4ff" opacity="0.45" filter="url(#b1)"/>
<circle cx="322" cy="163" r="2.9" fill="#6fd4ff" opacity="0.40" filter="url(#b1)"/>
<circle cx="302" cy="79" r="2.4" fill="#6fd4ff" opacity="0.30" filter="url(#b1)"/>
<circle cx="413" cy="18" r="2.4" fill="#6fd4ff" opacity="0.30" filter="url(#b1)"/>
<circle cx="548" cy="18" r="3.2" fill="#6fd4ff" opacity="0.35" filter="url(#b1)"/>
<circle cx="575" cy="30" r="2.6" fill="#6fd4ff" opacity="0.30" filter="url(#b1)"/>
<circle cx="557" cy="42" r="2.2" fill="#6fd4ff" opacity="0.30" filter="url(#b1)"/>
<circle cx="718" cy="40" r="3.2" fill="#6fd4ff" opacity="0.40" filter="url(#b1)"/>
<circle cx="697" cy="8" r="2.9" fill="#6fd4ff" opacity="0.35" filter="url(#b1)"/>
<circle cx="748" cy="143" r="3.5" fill="#6fd4ff" opacity="0.45" filter="url(#b1)"/>
<circle cx="718" cy="90" r="2.4" fill="#6fd4ff" opacity="0.30" filter="url(#b1)"/>
<circle cx="700" cy="163" r="2.9" fill="#6fd4ff" opacity="0.35" filter="url(#b1)"/>
<circle cx="688" cy="176" r="2.6" fill="#6fd4ff" opacity="0.30" filter="url(#b1)"/>
<circle cx="625" cy="65" r="2.4" fill="#6fd4ff" opacity="0.25" filter="url(#b1)"/>
<circle cx="586" cy="62" r="2.2" fill="#6fd4ff" opacity="0.25" filter="url(#b1)"/>
<circle cx="735" cy="12" r="2.4" fill="#6fd4ff" opacity="0.30" filter="url(#b1)"/>
<circle cx="682" cy="182" r="2.4" fill="#6fd4ff" opacity="0.30" filter="url(#b1)"/>
<circle cx="310" cy="178" r="2.1" fill="#6fd4ff" opacity="0.25" filter="url(#b1)"/>
<circle cx="762" cy="120" r="2.1" fill="#6fd4ff" opacity="0.25" filter="url(#b1)"/>
<text x="1089" y="339.6" text-anchor="end" font-family="Liberation Sans, sans-serif" font-weight="bold" font-size="11" textLength="80" lengthAdjust="spacingAndGlyphs" fill="url(#hw)">HUAWEI</text>
<path d="M1040 731 L1052.6 714.7 H1081.8 L1095.3 731 L1081 746.6 H1052.6 Z" fill="#3a8fe6" fill-opacity=".10" stroke="#7dbcf5" stroke-opacity=".22" stroke-width="1.2"/>
<text x="1067" y="735.5" text-anchor="middle" font-family="Liberation Sans, sans-serif" font-weight="bold" font-size="9.5" fill="#b8dcff" fill-opacity=".25">Back</text>
</svg>

<div class="t1">科创板</div>
<div class="yr">2019</div>
<div class="t2">大事件</div>

<div id="frame"></div>
<div id="card"></div>

<div class="bul"></div>
<div class="h">科创板推进工作平稳有序高效，科创板试点注册制已取得阶段性成果。</div>
<div class="sub">科创板重大事件进程</div>

<svg class="abs" style="left:0;top:0" width="1103" height="770" viewBox="0 0 1103 770">
 <g fill="#a8a8a8" stroke="none">
  <path d="M321.3 613.6 V436 L323.8 407.9 A69.4 69.4 0 0 1 393.2 338.5 H406 A69.4 69.4 0 0 0 336.6 407.9 L337.1 436 V613.6 Z"/>
  <rect x="380" y="332" width="420" height="12.9"/>
  <rect x="480" y="479" width="320" height="13.6"/>
  <path d="M800 332 A84.3 80.3 0 0 1 800 492.6 H792.5 V479.1 A76.5 67 0 0 0 792.5 345.1 V332 Z"/>
 </g>
</svg>

<div class="node" style="left:353px;top:321px;width:78px;height:38px;line-height:38px">2019/1/30</div>
<div class="node" style="left:468px;top:321px;width:45px;height:38px;line-height:38px">3/1</div>
<div class="node" style="left:562px;top:321px;width:44px;height:38px;line-height:38px">3/18</div>
<div class="node" style="left:651px;top:321px;width:45px;height:38px;line-height:38px">3/22</div>
<div class="node" style="left:739px;top:321px;width:45px;height:38px;line-height:38px">6/5</div>
<div class="node red" style="left:855.3px;top:389px;width:41.7px;height:34px;line-height:34px">6/13</div>
<div class="node" style="left:758px;top:465px;width:42px;height:35px;line-height:35px">6/19</div>
<div class="node" style="left:664px;top:465px;width:41px;height:35px;line-height:35px">7/22</div>
<div class="node" style="left:570px;top:465px;width:42px;height:35px;line-height:35px">8/21</div>
<div class="node red" style="left:445px;top:465px;width:64px;height:35px;line-height:35px">10/29</div>
<div class="node" style="left:300px;top:403px;width:52px;height:36px;line-height:36px">12/24</div>
<div class="node" style="left:298px;top:486px;width:53px;height:36px;line-height:36px">12/19</div>
<div class="node" style="left:298px;top:566px;width:52px;height:35px;line-height:15px;padding-top:3px">2018/<br>11/5</div>

<div class="tx c" style="left:366.3px;top:364px">证监会及上<br>交所<b>发布征<br>求意见稿</b></div>
<div class="tx c" style="left:461.8px;top:361.4px;line-height:16.1px">证监会及<br>上交所<b>正<br>式发布</b>科<br>创板规则</div>
<div class="tx c" style="left:544.9px;top:361.4px;line-height:16.1px">上交所正式开<br>放受理审核科<br>创板股票发行<br>上市申请文件</div>
<div class="lb" style="left:642.2px;top:361px">首批<span style="font-weight:normal">9家</span>受<br>理</div>
<div class="lb" style="left:741px;top:361px">首批上<br>会</div>
<div class="lb" style="left:782px;top:403.5px">宣布开板</div>
<div class="lb" style="left:444px;top:507.5px">运行满百日</div>
<div class="lb" style="left:565px;top:508px">运行满月</div>
<div class="lb" style="left:665px;top:507px">首批25<br>家挂牌<br>上市</div>
<div class="lb" style="left:747px;top:505.5px;width:65px;text-align:center">首家招股<br><span style="margin-right:1.5px">(</span>华兴源创<span style="margin-left:1.5px">)</span></div>

<div class="tx" style="left:179px;top:386.5px;line-height:16.1px">中央经济工作会议提<br>出推动在上交所设立<br>科创板并试点注册制<br>尽快落地。</div>
<div class="tx" style="left:176px;top:461.8px">中国证监会将<span class="q">“</span>确保<br>在上交所设立科创板<br>并设点注册制尽快落<br>地<span class="q">”</span>列为2019年首要<br>任务。</div>
<div class="tx" style="left:175.5px;top:565.7px;line-height:15.9px">习近平总书记在进博<br>会首提科创板并试点<br>注册制。</div>

<div class="src">图片来源：申万宏源</div>
</body>
</html>
